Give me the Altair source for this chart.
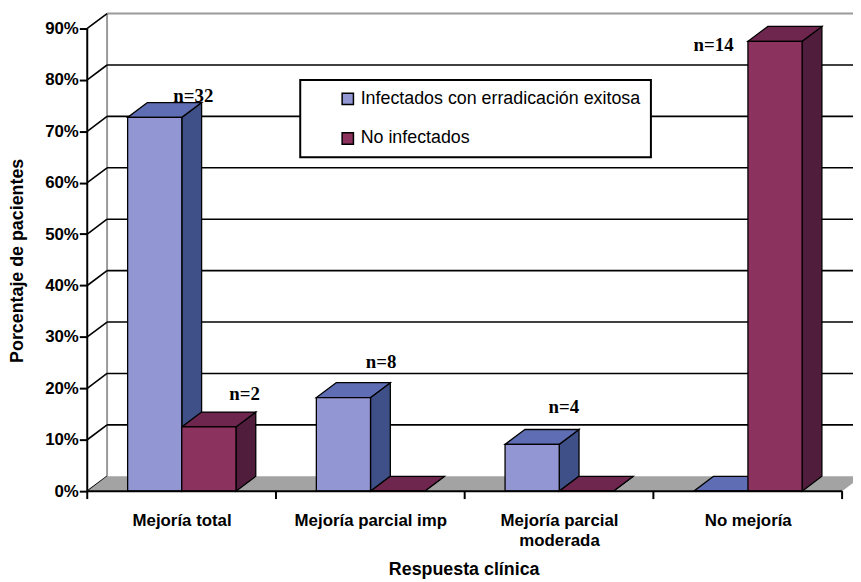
import json
import altair as alt
import pandas as pd

# ---------------- data ----------------
categories = ["Mejoría total", "Mejoría parcial imp", "Mejoría parcial moderada", "No mejoría"]
category_lines = [["Mejoría total"], ["Mejoría parcial imp"], ["Mejoría parcial", "moderada"], ["No mejoría"]]
series = ["Infectados con erradicación exitosa", "No infectados"]
infectados = [72.7, 18.2, 9.1, 0.0]
no_infectados = [12.5, 0.0, 0.0, 87.5]
n_infectados = ["n=32", "n=8", "n=4", ""]
n_no_infectados = ["n=2", "", "", "n=14"]
y_ticks = [0, 10, 20, 30, 40, 50, 60, 70, 80, 90]

# ---------------- layout / style ----------------
W, H = 773, 482
CAT_PX = 190.5          # pixels per category
PCT_PX = 5.19           # pixels per percentage point
X_MAX = W / CAT_PX
Y_MAX = H / PCT_PX
DX = 20 / CAT_PX        # 3-D depth, horizontal
DY = 15 / PCT_PX        # 3-D depth, vertical
BAR_W = 0.287
BAR_START = 0.214
N_CAT = len(categories)

front_col = ["#9296D2", "#8C325F"]
side_col = ["#3E5087", "#501E3C"]
top_col = ["#5F6EB4", "#6E264E"]
label_dx_px = [[39, 38, 32, 0], [36, 0, 0, -62]]
label_dy_px = [[22, 36, 38, 0], [33, 0, 0, -4]]

SANS = "Liberation Sans"
SERIF = "Liberation Serif"

values = [infectados, no_infectados]
labels = [n_infectados, n_no_infectados]

front_rows, side_rows, top_rows, text_rows = [], [], [], []
for i, cat in enumerate(categories):
    for s, ser in enumerate(series):
        v = values[s][i]
        x0 = i + BAR_START + s * BAR_W
        x1 = x0 + BAR_W
        bid = f"{i}-{s}"
        front_rows.append(dict(bar=bid, series=ser, x0=x0, x1=x1, v=v))
        side_rows += [dict(bar=bid, col=side_col[s], px=x1, lo=0.0, hi=v),
                      dict(bar=bid, col=side_col[s], px=x1 + DX, lo=DY, hi=v + DY)]
        top_rows += [dict(bar=bid, col=top_col[s], py=v, l=x0, r=x1),
                     dict(bar=bid, col=top_col[s], py=v + DY, l=x0 + DX, r=x1 + DX)]
        if labels[s][i]:
            text_rows.append(dict(t=labels[s][i],
                                  tx=(x0 + x1) / 2 + label_dx_px[s][i] / CAT_PX,
                                  ty=v + label_dy_px[s][i] / PCT_PX))

front_df = pd.DataFrame(front_rows)
side_df = pd.DataFrame(side_rows)
top_df = pd.DataFrame(top_rows)
text_df = pd.DataFrame(text_rows)

grid_df = pd.DataFrame([dict(a=DX, b=X_MAX, y=t + DY) for t in y_ticks[1:-1]])
diag_df = pd.DataFrame([dict(a=0.0, b=DX, y=float(t), y2=t + DY) for t in y_ticks])
wall_df = pd.DataFrame([dict(a=DX, b=DX, y=DY, y2=90 + DY),
                        dict(a=DX, b=X_MAX, y=90 + DY, y2=90 + DY)])
floor_df = pd.DataFrame([dict(py=0.0, l=0.0, r=float(N_CAT)),
                         dict(py=DY, l=DX, r=N_CAT + DX)])
axis_df = pd.DataFrame([dict(a=0.0, b=float(N_CAT), y=0.0, y2=0.0),
                        dict(a=0.0, b=0.0, y=0.0, y2=90.0)])
tick_df = pd.DataFrame(dict(bx=[float(k) for k in range(N_CAT + 1)]))

# ---------------- scales / axes ----------------
expr = "''"
for i in reversed(range(N_CAT)):
    expr = f"datum.value < {i + 1} ? {json.dumps(category_lines[i], ensure_ascii=False)} : ({expr})"

xscale = alt.Scale(domain=[0, X_MAX], nice=False, zero=False)
yscale = alt.Scale(domain=[0, Y_MAX], nice=False, zero=False)
xaxis = alt.Axis(values=[i + 0.5 for i in range(N_CAT)], labelExpr=expr, ticks=False, domain=False,
                 grid=False, labelFont=SANS, labelFontSize=17, labelFontWeight="bold",
                 labelColor="black", labelLineHeight=20, labelPadding=22, labelOverlap=False,
                 labelBound=False, labelFlush=False,
                 title="Respuesta clínica", titleFont=SANS, titleFontSize=18, titleFontWeight="bold",
                 titleColor="black", titleX=380, titleY=79, titleBaseline="middle", titleAlign="center")
yaxis = alt.Axis(values=y_ticks, labelExpr="datum.value + '%'", domain=False, grid=False,
                 tickSize=8, tickWidth=2, tickColor="black", labelPadding=1,
                 labelFont=SANS, labelFontSize=17, labelFontWeight="bold", labelColor="black",
                 title="Porcentaje de pacientes", titleFont=SANS, titleFontSize=18,
                 titleFontWeight="bold", titleColor="black", titleX=-70, titleY=249,
                 titleAngle=-90, titleBaseline="middle", titleAlign="center")


def X(f):
    return alt.X(f"{f}:Q", scale=xscale, axis=xaxis)


def Y(f):
    return alt.Y(f"{f}:Q", scale=yscale, axis=yaxis)


wall = alt.Chart(wall_df).mark_rule(color="#9a9a9a", strokeWidth=2).encode(
    x=X("a"), x2="b", y=Y("y"), y2="y2")
grid = alt.Chart(grid_df).mark_rule(color="black", strokeWidth=1.6).encode(
    x=X("a"), x2="b", y=Y("y"))
diag = alt.Chart(diag_df).mark_rule(color="black", strokeWidth=1.6).encode(
    x=X("a"), x2="b", y=Y("y"), y2="y2")
floor = alt.Chart(floor_df).mark_area(orient="horizontal", color="#a3a3a3", clip=True).encode(
    y=Y("py"), x=X("l"), x2="r")
sides = alt.Chart(side_df).mark_area(stroke="black", strokeWidth=1.3).encode(
    x=X("px"), y=Y("lo"), y2="hi", detail="bar:N", fill=alt.Fill("col:N", scale=None))
tops = alt.Chart(top_df).mark_area(orient="horizontal", stroke="black", strokeWidth=1.3).encode(
    y=Y("py"), x=X("l"), x2="r", detail="bar:N", fill=alt.Fill("col:N", scale=None))
fronts = alt.Chart(front_df).mark_rect(stroke="black", strokeWidth=1.3).encode(
    x=X("x0"), x2="x1", y=Y("v"), y2=alt.Y2(datum=0),
    color=alt.Color("series:N", scale=alt.Scale(domain=series, range=front_col),
                    legend=alt.Legend(title=None, orient="none", legendX=215, legendY=67,
                                      direction="vertical", symbolType="square", symbolSize=130,
                                      symbolStrokeColor="black", symbolStrokeWidth=1.5,
                                      labelFont=SANS, labelFontSize=18, labelColor="black",
                                      padding=10, rowPadding=22, symbolOffset=29, labelOffset=4,
                                      strokeColor="black", fillColor="white", labelLimit=0)))
axes = alt.Chart(axis_df).mark_rule(color="black", strokeWidth=2).encode(
    x=X("a"), x2="b", y=Y("y"), y2="y2")
ticks = alt.Chart(tick_df).mark_rule(color="black", strokeWidth=2).encode(
    x=X("bx"), y=alt.value(H), y2=alt.value(H + 8))
texts = alt.Chart(text_df).mark_text(font=SERIF, fontWeight="bold", fontSize=19,
                                     baseline="middle", align="center", color="black").encode(
    x=X("tx"), y=Y("ty"), text="t:N")

chart = alt.layer(wall, grid, diag, floor, sides, tops, fronts, axes, ticks, texts).properties(
    width=W, height=H,
    autosize=alt.AutoSizeParams(type="none"),
    padding={"left": 80, "top": 3, "right": 0, "bottom": 92},
    background="white",
).configure_view(stroke=None).configure_legend(strokeWidth=2)

chart.save("out.html", embed_options={"renderer": "svg", "actions": False})
